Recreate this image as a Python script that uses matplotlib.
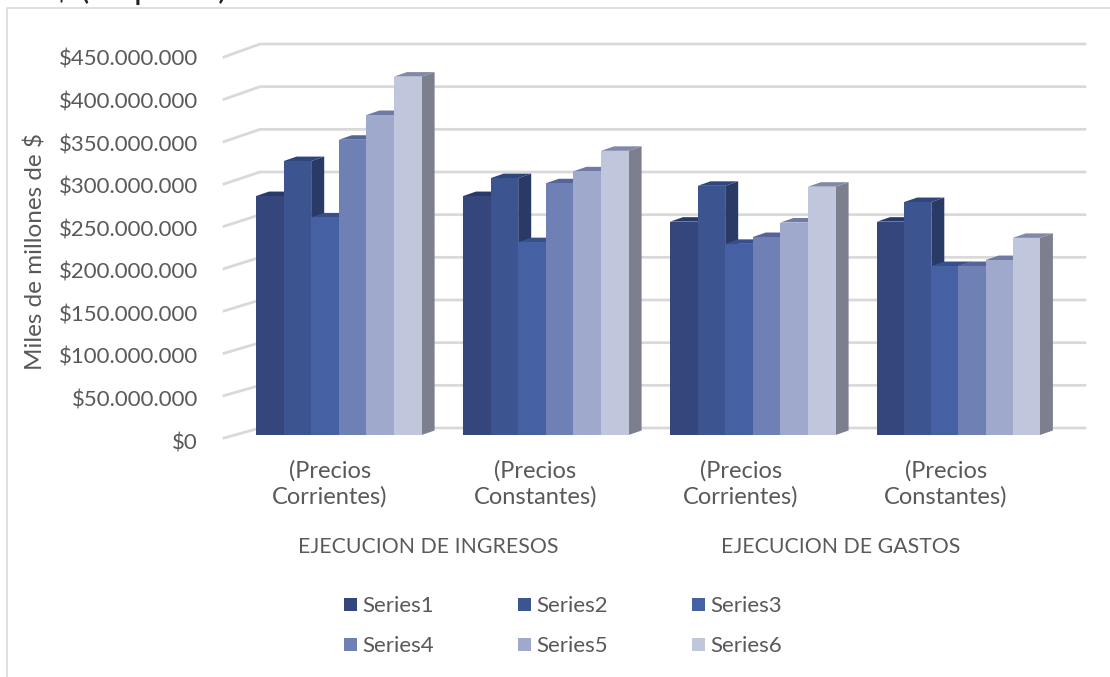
import numpy as np
import matplotlib
matplotlib.use('Agg')
import matplotlib.pyplot as plt
from matplotlib.patches import Polygon, Rectangle

# valores (millones de $)
series1 = [280, 280, 250, 250]
series2 = [321, 301, 292, 273]
series3 = [255, 226, 224, 198]
series4 = [346, 295, 232, 198]
series5 = [375, 309, 249, 205]
series6 = [420, 333, 291, 231]
all_series = [series1, series2, series3, series4, series5, series6]

names = ['Series1', 'Series2', 'Series3', 'Series4', 'Series5', 'Series6']
colors = ['#34467c', '#3c5490', '#4561a3', '#6f80b5', '#9fa9cc', '#c0c6dc']
tops = ['#2a3a68', '#304579', '#38508a', '#55659a', '#6f7aa5', '#8189a8']
sides = ['#263660', '#2a3a66', '#2f4478', '#4c5a88', '#6c7596', '#7c7f8e']
cat_labels = ['(Precios\nCorrientes)', '(Precios\nConstantes)', '(Precios\nCorrientes)', '(Precios\nConstantes)']
group_labels = ['EJECUCION DE INGRESOS', 'EJECUCION DE GASTOS']
ticks = [0, 50, 100, 150, 200, 250, 300, 350, 400, 450]
tick_labels = ['$0', '$50.000.000', '$100.000.000', '$150.000.000', '$200.000.000',
               '$250.000.000', '$300.000.000', '$350.000.000', '$400.000.000', '$450.000.000']

W, H = 1110, 677
plt.rcParams['font.family'] = ['Lato', 'DejaVu Sans']
fig = plt.figure(figsize=(W / 100, H / 100), dpi=100)
# ejes = figura entera, eje y en millones y eje x en grupos
ax = fig.add_axes([0, 0, 1, 1])
group_px = 207
y_px = 384 / 450
x0 = 338.8
y0 = 435
ax.set_xlim((0 - x0) / group_px, (W - x0) / group_px)
ax.set_ylim((y0 - H) / y_px, y0 / y_px)
ax.axis('off')

def xd(px):
    return (px - x0) / group_px

def yd(py):
    return (y0 - py) / y_px

text_col = '#595959'
grid_col = '#d9d9d9'

# marco del grafico
ax.plot([xd(7), xd(7), xd(W)], [yd(H), yd(8), yd(8)], color=grid_col, lw=1.2, zorder=1)
# titulo cortado por arriba, igual que en la original
ax.text(xd(10), yd(-12), 'US$ (en pesos)', fontsize=24, color='#222222', va='center', clip_on=True)

# rejilla: pared del fondo y pared lateral
for t in ticks:
    back = yd(428) + t
    front = yd(438) + t * (381 / 384)
    ax.plot([xd(224), xd(260), xd(1085)], [front, back, back], color=grid_col, lw=2, zorder=1)

# el ultimo grupo sale un poco mas estrecho en la original
group_w = [0.8, 0.8, 0.8, 0.787]
dx = 13 / group_px
dy = 4.5 / y_px
for g in range(4):
    bar_w = group_w[g] / 6
    for s in range(6):
        v = all_series[s][g]
        left = g - 0.4 + s * bar_w
        right = left + bar_w
        z = 3 + s * 0.01
        ax.add_patch(Polygon([(right, 0), (right + dx, dy), (right + dx, v + dy), (right, v)],
                             closed=True, fc=sides[s], ec='none', zorder=z))
        ax.add_patch(Polygon([(left, v), (left + dx, v + dy), (right + dx, v + dy), (right, v)],
                             closed=True, fc=tops[s], ec='none', zorder=z))
    for s in range(6):
        v = all_series[s][g]
        left = g - 0.4 + s * bar_w
        ax.bar(left, v, width=bar_w, align='edge', color=colors[s], zorder=4)

# textos de los ejes
for t, lab in zip(ticks, tick_labels):
    ax.text(xd(198), yd(443) + t * (383 / 384), lab, ha='right', va='center', fontsize=16, color=text_col)
ax.text(xd(35), yd(252), 'Miles de millones de $', rotation=90, ha='center', va='center',
        fontsize=17.5, color=text_col)
for g, lab in enumerate(cat_labels):
    ax.text(xd(330 + 205.3 * g), yd(484), lab, ha='center', va='center', fontsize=17, color=text_col, linespacing=1.25)
ax.text(xd(428), yd(547), group_labels[0], ha='center', va='center', fontsize=15.3, color=text_col)
ax.text(xd(841), yd(547), group_labels[1], ha='center', va='center', fontsize=15.3, color=text_col)

# leyenda a mano, 3 columnas
leg_x = [344, 518, 692]
leg_y = [605, 645]
for i, name in enumerate(names):
    px = leg_x[i % 3]
    py = leg_y[i // 3]
    ax.add_patch(Rectangle((xd(px), yd(py + 6)), 13 / group_px, 13 / y_px, fc=colors[i], ec='none', zorder=4))
    ax.text(xd(px + 18), yd(py + 1), name, ha='left', va='center', fontsize=16, color=text_col)

fig.savefig('out.png', dpi=100)
